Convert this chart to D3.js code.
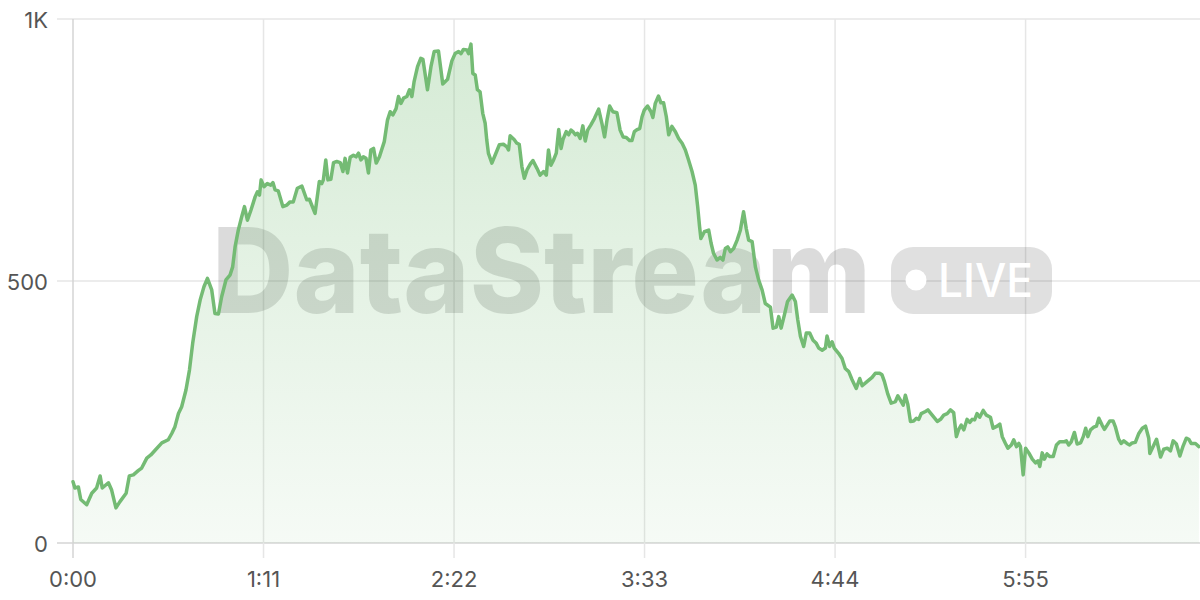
<!DOCTYPE html>
<html><head><meta charset="utf-8">
<script src="https://cdn.jsdelivr.net/npm/d3@7"></script>
<style>html,body{margin:0;padding:0;background:#fff;overflow:hidden}</style>
</head><body><svg id="chart" width="1200" height="600"></svg>
<script>
const seconds = [0,0.7,2.0,2.9,5.1,7.0,8.8,10.1,10.9,13.2,14.4,16.0,17.5,19.8,21.0,22.5,24.3,25.6,27.5,29.0,30.6,33.1,35.5,36.8,38.0,39.3,40.5,42.1,43.4,44.6,46.1,47.4,48.8,50.1,51.7,52.9,54.2,55.4,57.0,58.5,59.5,60.4,61.6,62.9,63.9,65.0,66.3,67.9,68.7,69.5,70.1,71.2,72.4,73.7,74.5,75.3,76.5,78.2,79.7,80.9,82.1,83.6,85.3,87.1,88.1,90.2,91.8,92.7,93.3,94.2,95.0,96.1,97.1,98.3,99.6,100.6,101.4,102.3,103.3,104.5,105.5,106.4,107.3,108.2,109.2,110.1,111.0,112.0,113.0,114.2,116.0,117.2,118.2,119.2,120.4,121.3,122.2,123.2,124.4,125.4,126.3,127.1,128.4,129.6,130.4,132.1,133.4,134.6,136.2,137.8,139.6,141.2,142.4,143.7,144.6,145.5,146.8,147.4,148.3,149.0,149.9,150.7,151.7,152.7,153.6,154.2,154.8,156.1,157.3,158.9,160.4,161.7,162.3,162.9,164.4,165.4,166.3,167.3,168.2,169.2,170.4,171.4,172.9,174.1,175.4,176.4,177.2,178.1,179.1,180.1,181.0,181.9,182.6,183.8,184.7,185.6,186.5,187.2,188.0,189.0,190.0,190.9,191.8,193.0,194.3,195.9,197.1,198.1,199.0,200.0,201.2,202.7,203.9,205.0,206.2,207.4,208.3,209.2,210.2,211.2,212.1,212.9,214.1,215.4,216.1,217.0,218.2,219.1,220.1,221.1,222.0,223.2,224.5,225.7,227.0,228.2,229.4,230.7,231.9,232.8,233.5,234.0,235.3,236.9,237.8,238.7,240.0,241.2,242.2,243.1,244.0,245.0,246.2,247.5,248.7,249.9,250.9,251.8,253.1,254.3,255.5,256.8,258.0,259.9,260.9,262.1,263.0,263.9,265.1,266.3,268.0,269.2,270.1,271.1,272.3,273.3,274.5,275.8,277.0,277.9,279.2,280.4,281.0,282.0,282.9,283.7,285.3,286.6,287.8,289.1,290.3,291.9,293.2,294.1,295.9,297.8,299.0,300.6,301.5,302.4,303.6,304.9,306.5,307.4,308.4,309.4,310.2,311.1,312.1,313.3,314.3,315.2,316.1,317.7,318.6,320.2,322.1,323.3,324.5,325.8,327.0,328.2,329.2,330.1,331.0,332.0,333.2,334.2,335.1,336.0,336.9,337.9,339.2,340.4,341.9,342.9,344.4,345.4,346.3,347.5,348.4,349.7,350.6,351.6,352.5,353.1,354.1,355.0,356.2,357.5,358.7,359.6,360.3,361.2,362.0,363.0,364.0,365.3,366.5,367.7,369.2,370.2,371.1,372.0,373.2,374.2,375.5,376.5,377.4,378.2,379.2,380.4,381.4,382.3,383.5,384.4,385.4,386.4,387.6,388.5,389.7,390.6,391.6,392.8,393.8,394.7,395.9,397.2,398.5,399.7,400.9,401.3,402.8,403.8,405.3,406.5,407.8,409.0,410.0,411.2,412.5,413.7,414.9,415.8,416.7,418.3,419.6];
const viewers = [117,105,107,83,73,95,105,128,105,115,101,67,79,95,128,130,138,143,162,168,177,191,197,209,222,247,260,292,330,381,432,464,489,505,483,438,437,470,502,511,527,565,597,623,642,616,635,661,670,664,693,680,686,683,688,674,672,642,645,651,651,677,681,655,656,629,690,686,693,731,693,694,726,728,726,709,734,706,736,740,737,744,731,737,734,706,750,753,725,737,766,807,823,817,829,852,839,849,852,865,852,880,909,925,923,865,909,938,939,876,885,920,934,938,934,942,941,934,952,896,893,865,861,820,801,769,744,725,740,760,761,756,750,777,770,763,761,718,696,712,723,730,715,702,709,702,750,721,731,744,789,753,770,785,779,788,784,779,782,772,796,767,788,798,810,828,801,775,807,834,823,821,788,775,774,768,768,785,789,791,814,826,834,823,812,839,853,840,840,814,779,795,785,772,763,750,731,709,683,642,604,581,594,597,572,553,540,545,540,562,565,556,562,578,597,632,600,578,575,527,502,483,457,450,410,412,432,410,435,461,473,461,426,394,375,401,401,387,381,372,368,372,395,375,384,372,362,352,333,327,312,295,314,300,308,316,324,324,321,308,285,267,270,281,272,263,282,265,232,233,238,236,247,251,254,244,232,236,244,247,254,249,203,217,225,216,236,230,236,235,247,240,253,244,240,219,223,227,203,190,181,187,197,184,190,184,130,181,172,160,153,157,146,172,160,170,165,165,187,193,193,195,187,193,211,189,191,203,219,203,216,221,223,238,225,217,225,233,233,221,198,190,195,190,187,191,192,209,219,223,200,171,187,198,164,179,181,176,195,189,166,185,200,198,190,190,184];
const xTickValues = [0, 71, 142, 213, 284, 355];
const xTickLabels = ["0:00", "1:11", "2:22", "3:33", "4:44", "5:55"];
const yTickValues = [0, 500, 1000];
const yTickLabels = ["0", "500", "1K"];
const watermarkText = "DataStream";
const badgeText = "LIVE";

const data = d3.zip(seconds, viewers).map(([t, v]) => ({t, v}));
const svg = d3.select("#chart");
const x = d3.scaleLinear().domain([0, 420]).range([73, 1200]);
const y = d3.scaleLinear().domain([0, 1000]).range([543, 19]);
const FONT = "Inter, 'Noto Sans', sans-serif";

const defs = svg.append("defs");
const grad = defs.append("linearGradient").attr("id", "fillGrad")
  .attr("gradientUnits", "userSpaceOnUse").attr("x1", 0).attr("x2", 0)
  .attr("y1", y(1000)).attr("y2", y(0));
grad.append("stop").attr("offset", 0).attr("stop-color", "#78be78").attr("stop-opacity", 0.32);
grad.append("stop").attr("offset", 1).attr("stop-color", "#78be78").attr("stop-opacity", 0.07);

// grid
const grid = svg.append("g");
grid.selectAll("line.h").data(yTickValues).join("line")
  .attr("x1", 57).attr("x2", 1200).attr("y1", d => y(d)).attr("y2", d => y(d))
  .attr("stroke", d => d === 0 ? "#d4d4d4" : "#e6e6e6").attr("stroke-width", 1.5);
grid.selectAll("line.v").data(xTickValues).join("line")
  .attr("x1", d => x(d)).attr("x2", d => x(d)).attr("y1", y(1000)).attr("y2", 558)
  .attr("stroke", d => d === 0 ? "#d4d4d4" : "#e6e6e6").attr("stroke-width", 1.5);

// watermark
const wm = svg.append("g");
wm.append("text").attr("x", 212).attr("y", 313)
  .attr("font-family", FONT).attr("font-weight", 800).attr("font-size", 118)
  .attr("textLength", 659).attr("lengthAdjust", "spacingAndGlyphs")
  .attr("fill", "#000").attr("fill-opacity", 0.14).text(watermarkText);
wm.append("rect").attr("x", 891).attr("y", 247).attr("width", 161).attr("height", 67)
  .attr("rx", 22).attr("fill", "#000").attr("fill-opacity", 0.12);
wm.append("circle").attr("cx", 916).attr("cy", 280).attr("r", 10.5).attr("fill", "#fff");
wm.append("text").attr("x", 938).attr("y", 297)
  .attr("font-family", FONT).attr("font-weight", 500).attr("font-size", 46)
  .attr("textLength", 95).attr("lengthAdjust", "spacingAndGlyphs")
  .attr("fill", "#fff").text(badgeText);

// area + line
const area = d3.area().x(d => x(d.t)).y0(y(0)).y1(d => y(d.v));
const line = d3.line().x(d => x(d.t)).y(d => y(d.v));
svg.append("path").datum(data).attr("d", area).attr("fill", "url(#fillGrad)");
svg.append("path").datum(data).attr("d", line).attr("fill", "none")
  .attr("stroke", "#74bb74").attr("stroke-width", 3.5)
  .attr("stroke-linejoin", "round").attr("stroke-linecap", "round");

// labels
svg.append("g").selectAll("text").data(yTickValues).join("text")
  .attr("x", 48).attr("y", d => y(d) + 9).attr("text-anchor", "end")
  .attr("font-family", FONT).attr("font-size", 22).attr("fill", "#555")
  .text((d, i) => yTickLabels[i]);
svg.append("g").selectAll("text").data(xTickValues).join("text")
  .attr("x", d => x(d)).attr("y", 587).attr("text-anchor", "middle")
  .attr("font-family", FONT).attr("font-size", 22).attr("fill", "#555")
  .text((d, i) => xTickLabels[i]);
</script></body></html>
